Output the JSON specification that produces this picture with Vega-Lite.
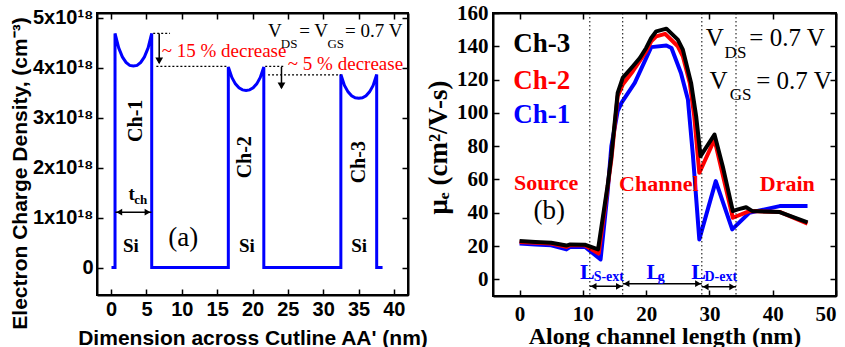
{
  "$schema": "https://vega.github.io/schema/vega-lite/v6.json",
  "background": "white",
  "padding": {"left": 8, "right": 5, "top": 1, "bottom": 0},
  "spacing": 85,
  "bounds": "flush",
  "config": {
    "view": {"stroke": "black", "strokeWidth": 2},
    "axis": {"grid": false, "domainColor": "black", "domainWidth": 2, "tickColor": "black", "tickWidth": 1.5, "tickSize": -6, "labelColor": "black", "titleColor": "black", "labelOverlap": false, "minExtent": 0, "tickCount": 30}
  },
  "hconcat": [
    {
      "width": 311,
      "height": 282,
      "layer": [
        {
          "layer": [
            {
              "data": {"values": [
                {"i":1,"d":0.05,"n":0},{"i":2,"d":0.55,"n":0},{"i":3,"d":0.55,"n":4.69},{"i":4,"d":1.07,"n":4.40},{"i":5,"d":1.59,"n":4.22},{"i":6,"d":2.11,"n":4.11},{"i":7,"d":2.63,"n":4.05},{"i":8,"d":3.15,"n":4.04},{"i":9,"d":3.67,"n":4.05},{"i":10,"d":4.19,"n":4.11},{"i":11,"d":4.71,"n":4.22},{"i":12,"d":5.23,"n":4.40},{"i":13,"d":5.74,"n":4.69},{"i":14,"d":5.74,"n":0},
                {"i":15,"d":16.58,"n":0},{"i":16,"d":16.58,"n":4.02},{"i":17,"d":17.08,"n":3.81},{"i":18,"d":17.58,"n":3.68},{"i":19,"d":18.09,"n":3.60},{"i":20,"d":18.59,"n":3.56},{"i":21,"d":19.09,"n":3.55},{"i":22,"d":19.59,"n":3.56},{"i":23,"d":20.09,"n":3.60},{"i":24,"d":20.60,"n":3.68},{"i":25,"d":21.10,"n":3.81},{"i":26,"d":21.6,"n":4.02},{"i":27,"d":21.6,"n":0},
                {"i":28,"d":32.5,"n":0},{"i":29,"d":32.5,"n":3.87},{"i":30,"d":33.01,"n":3.65},{"i":31,"d":33.52,"n":3.52},{"i":32,"d":34.02,"n":3.44},{"i":33,"d":34.53,"n":3.40},{"i":34,"d":35.04,"n":3.39},{"i":35,"d":35.55,"n":3.40},{"i":36,"d":36.06,"n":3.44},{"i":37,"d":36.56,"n":3.52},{"i":38,"d":37.07,"n":3.65},{"i":39,"d":37.57,"n":3.87},{"i":40,"d":37.57,"n":0},{"i":41,"d":38.4,"n":0}
              ]},
              "mark": {"type": "line", "color": "#0000ff", "strokeWidth": 3},
              "encoding": {
                "x": {"field": "d", "type": "quantitative", "scale": {"domain": [-2, 42], "nice": false, "zero": false},
                  "axis": {"values": [0,5,10,15,20,25,30,35,40], "tickCount": 30, "title": "Dimension across Cutline AA' (nm)", "labelFont": "Liberation Sans, Arial, Helvetica, sans-serif", "labelFontWeight": "bold", "labelFontSize": 20, "titleFont": "Liberation Sans, Arial, Helvetica, sans-serif", "titleFontWeight": "bold", "titleFontSize": 21, "labelPadding": 10, "titlePadding": 8}},
                "y": {"field": "n", "type": "quantitative", "scale": {"domain": [-0.55, 5.1], "nice": false, "zero": false},
                  "axis": {"values": [0,1,2,3,4,5], "tickCount": 30, "labelExpr": "datum.value == 0 ? '0' : datum.value + 'x10¹⁸'", "title": "Electron Charge Density, (cm⁻³)", "titleY": 160, "labelFont": "Liberation Sans, Arial, Helvetica, sans-serif", "labelFontWeight": "bold", "labelFontSize": 20, "titleFont": "Liberation Sans, Arial, Helvetica, sans-serif", "titleFontWeight": "bold", "titleFontSize": 21, "labelPadding": 10, "titlePadding": 2}},
                "order": {"field": "i"}
              }
            },
            {
              "data": {"values": [
                {"x": 5.95, "x2": 8.33, "y": 4.69},
                {"x": 6.4, "x2": 16.6, "y": 4.03},
                {"x": 21.8, "x2": 24.6, "y": 4.03},
                {"x": 22.2, "x2": 32.5, "y": 3.86}
              ]},
              "mark": {"type": "rule", "color": "black", "strokeWidth": 1.2, "strokeDash": [2, 2]},
              "encoding": {"x": {"field": "x", "type": "quantitative"}, "x2": {"field": "x2"}, "y": {"field": "y", "type": "quantitative"}}
            },
            {
              "data": {"values": [
                {"x": 6.8, "y": 4.69, "y2": 4.1},
                {"x": 24.1, "y": 4.02, "y2": 3.6}
              ]},
              "mark": {"type": "rule", "color": "black", "strokeWidth": 1.5},
              "encoding": {"x": {"field": "x", "type": "quantitative"}, "y": {"field": "y", "type": "quantitative"}, "y2": {"field": "y2"}}
            },
            {
              "data": {"values": [{"x": 6.8, "y": 4.14}, {"x": 24.1, "y": 3.64}]},
              "mark": {"type": "point", "shape": "triangle-down", "filled": true, "color": "black", "size": 60, "opacity": 1},
              "encoding": {"x": {"field": "x", "type": "quantitative"}, "y": {"field": "y", "type": "quantitative"}}
            },
            {
              "data": {"values": [{"x": 0.6, "x2": 5.7, "y": 1.11}]},
              "mark": {"type": "rule", "color": "black", "strokeWidth": 1.5},
              "encoding": {"x": {"field": "x", "type": "quantitative"}, "x2": {"field": "x2"}, "y": {"field": "y", "type": "quantitative"}}
            },
            {
              "data": {"values": [{"x": 1.15, "y": 1.11, "dir": "left"}, {"x": 5.15, "y": 1.11, "dir": "right"}]},
              "mark": {"type": "point", "filled": true, "color": "black", "size": 45, "opacity": 1},
              "encoding": {"x": {"field": "x", "type": "quantitative"}, "y": {"field": "y", "type": "quantitative"},
                "shape": {"field": "dir", "type": "nominal", "scale": {"domain": ["left", "right"], "range": ["triangle-left", "triangle-right"]}, "legend": null}}
            },
            {
              "data": {"values": [{"x": 22.2, "y": 4.73, "t": "V"}, {"x": 26.6, "y": 4.73, "t": "= V"}, {"x": 33.1, "y": 4.73, "t": "= 0.7 V"}]},
              "mark": {"type": "text", "font": "Liberation Serif, Times New Roman, Times, serif", "fontSize": 19, "align": "left", "baseline": "middle", "color": "black"},
              "encoding": {"x": {"field": "x", "type": "quantitative"}, "y": {"field": "y", "type": "quantitative"}, "text": {"field": "t"}}
            },
            {
              "data": {"values": [{"x": 24.0, "y": 4.47, "t": "DS"}, {"x": 30.6, "y": 4.47, "t": "GS"}]},
              "mark": {"type": "text", "font": "Liberation Serif, Times New Roman, Times, serif", "fontSize": 13, "align": "left", "baseline": "middle", "color": "black"},
              "encoding": {"x": {"field": "x", "type": "quantitative"}, "y": {"field": "y", "type": "quantitative"}, "text": {"field": "t"}}
            },
            {
              "data": {"values": [{"x": 7.15, "y": 4.33, "t": "~ 15 % decrease"}, {"x": 25.0, "y": 4.07, "t": "~ 5 % decrease"}]},
              "mark": {"type": "text", "font": "Liberation Serif, Times New Roman, Times, serif", "fontSize": 19, "align": "left", "baseline": "middle", "color": "#ff0000"},
              "encoding": {"x": {"field": "x", "type": "quantitative"}, "y": {"field": "y", "type": "quantitative"}, "text": {"field": "t"}}
            },
            {
              "data": {"values": [{"x": 3.45, "y": 2.94, "t": "Ch-1"}, {"x": 19.0, "y": 2.21, "t": "Ch-2"}, {"x": 35.0, "y": 2.11, "t": "Ch-3"}]},
              "mark": {"type": "text", "font": "Liberation Serif, Times New Roman, Times, serif", "fontSize": 20, "fontWeight": "bold", "angle": 270, "align": "center", "baseline": "middle", "color": "black"},
              "encoding": {"x": {"field": "x", "type": "quantitative"}, "y": {"field": "y", "type": "quantitative"}, "text": {"field": "t"}}
            },
            {
              "data": {"values": [{"x": 2.8, "y": 0.44, "t": "Si"}, {"x": 19.2, "y": 0.44, "t": "Si"}, {"x": 35.1, "y": 0.44, "t": "Si"}, {"x": 2.9, "y": 1.48, "t": "t"}]},
              "mark": {"type": "text", "font": "Liberation Serif, Times New Roman, Times, serif", "fontSize": 19, "fontWeight": "bold", "align": "center", "baseline": "middle", "color": "black"},
              "encoding": {"x": {"field": "x", "type": "quantitative"}, "y": {"field": "y", "type": "quantitative"}, "text": {"field": "t"}}
            },
            {
              "data": {"values": [{"x": 4.2, "y": 1.36, "t": "ch"}]},
              "mark": {"type": "text", "font": "Liberation Serif, Times New Roman, Times, serif", "fontSize": 13, "fontWeight": "bold", "align": "center", "baseline": "middle", "color": "black"},
              "encoding": {"x": {"field": "x", "type": "quantitative"}, "y": {"field": "y", "type": "quantitative"}, "text": {"field": "t"}}
            },
            {
              "data": {"values": [{"x": 10.2, "y": 0.6, "t": "(a)"}]},
              "mark": {"type": "text", "font": "Liberation Serif, Times New Roman, Times, serif", "fontSize": 27, "align": "center", "baseline": "middle", "color": "black"},
              "encoding": {"x": {"field": "x", "type": "quantitative"}, "y": {"field": "y", "type": "quantitative"}, "text": {"field": "t"}}
            }
          ]
        },
        {
          "data": {"values": [{"d": 0, "n": 0}]},
          "mark": {"type": "point", "opacity": 0},
          "encoding": {
            "x": {"field": "d", "type": "quantitative", "scale": {"domain": [-2, 42], "nice": false, "zero": false}, "axis": {"orient": "top", "values": [0,5,10,15,20,25,30,35,40], "tickCount": 30, "labels": false, "title": null}},
            "y": {"field": "n", "type": "quantitative", "scale": {"domain": [-0.55, 5.1], "nice": false, "zero": false}, "axis": {"orient": "right", "values": [0,1,2,3,4,5], "tickCount": 30, "labels": false, "title": null}}
          }
        }
      ],
      "resolve": {"axis": {"x": "independent", "y": "independent"}}
    },
    {
      "width": 343,
      "height": 283,
      "layer": [
        {
          "layer": [
            {
              "data": {"values": [
                {"ch":"Ch-1","x":0,"mu":21.5},{"ch":"Ch-1","x":2.5,"mu":21},{"ch":"Ch-1","x":5,"mu":20.5},{"ch":"Ch-1","x":7.4,"mu":18},{"ch":"Ch-1","x":8,"mu":19.5},{"ch":"Ch-1","x":10.3,"mu":19.6},{"ch":"Ch-1","x":12.8,"mu":12},{"ch":"Ch-1","x":13.9,"mu":52},{"ch":"Ch-1","x":14.5,"mu":80},{"ch":"Ch-1","x":15.5,"mu":101},{"ch":"Ch-1","x":16.1,"mu":106},{"ch":"Ch-1","x":18.2,"mu":118},{"ch":"Ch-1","x":20.8,"mu":139.5},{"ch":"Ch-1","x":23.2,"mu":140.5},{"ch":"Ch-1","x":24,"mu":139},{"ch":"Ch-1","x":25.5,"mu":124},{"ch":"Ch-1","x":26.6,"mu":108},{"ch":"Ch-1","x":27.4,"mu":74},{"ch":"Ch-1","x":28.4,"mu":24},{"ch":"Ch-1","x":31,"mu":59},{"ch":"Ch-1","x":33.6,"mu":30},{"ch":"Ch-1","x":36.3,"mu":40},{"ch":"Ch-1","x":41.1,"mu":44},{"ch":"Ch-1","x":45.5,"mu":44},
                {"ch":"Ch-2","x":0,"mu":22.5},{"ch":"Ch-2","x":2.5,"mu":22},{"ch":"Ch-2","x":5,"mu":21.5},{"ch":"Ch-2","x":7.4,"mu":19.5},{"ch":"Ch-2","x":8,"mu":20.5},{"ch":"Ch-2","x":10.3,"mu":20.5},{"ch":"Ch-2","x":12.5,"mu":15.5},{"ch":"Ch-2","x":13.9,"mu":55},{"ch":"Ch-2","x":14.5,"mu":72},{"ch":"Ch-2","x":15.5,"mu":110},{"ch":"Ch-2","x":16.3,"mu":117},{"ch":"Ch-2","x":17.9,"mu":125},{"ch":"Ch-2","x":20,"mu":137},{"ch":"Ch-2","x":20.8,"mu":143},{"ch":"Ch-2","x":21.6,"mu":146},{"ch":"Ch-2","x":23,"mu":147.5},{"ch":"Ch-2","x":25,"mu":140},{"ch":"Ch-2","x":25.8,"mu":134},{"ch":"Ch-2","x":26.9,"mu":118},{"ch":"Ch-2","x":27.6,"mu":98},{"ch":"Ch-2","x":28.4,"mu":64},{"ch":"Ch-2","x":30.8,"mu":84},{"ch":"Ch-2","x":33.7,"mu":37},{"ch":"Ch-2","x":36.3,"mu":41},{"ch":"Ch-2","x":41.1,"mu":40.5},{"ch":"Ch-2","x":45.5,"mu":33.5},
                {"ch":"Ch-3","x":0,"mu":23},{"ch":"Ch-3","x":2.5,"mu":22.5},{"ch":"Ch-3","x":5,"mu":22},{"ch":"Ch-3","x":7.4,"mu":20.3},{"ch":"Ch-3","x":8,"mu":21},{"ch":"Ch-3","x":10.3,"mu":20.8},{"ch":"Ch-3","x":12.4,"mu":18},{"ch":"Ch-3","x":13.9,"mu":56},{"ch":"Ch-3","x":14.5,"mu":74},{"ch":"Ch-3","x":15.5,"mu":112},{"ch":"Ch-3","x":16.3,"mu":121},{"ch":"Ch-3","x":17.9,"mu":128},{"ch":"Ch-3","x":19,"mu":133},{"ch":"Ch-3","x":20,"mu":139},{"ch":"Ch-3","x":20.8,"mu":145},{"ch":"Ch-3","x":21.6,"mu":149},{"ch":"Ch-3","x":23.2,"mu":150.6},{"ch":"Ch-3","x":25,"mu":144},{"ch":"Ch-3","x":25.8,"mu":138},{"ch":"Ch-3","x":27.1,"mu":118},{"ch":"Ch-3","x":27.9,"mu":98},{"ch":"Ch-3","x":28.6,"mu":74},{"ch":"Ch-3","x":30.8,"mu":87},{"ch":"Ch-3","x":32.1,"mu":68},{"ch":"Ch-3","x":33.7,"mu":41},{"ch":"Ch-3","x":34.5,"mu":42},{"ch":"Ch-3","x":35.8,"mu":43.3},{"ch":"Ch-3","x":36.8,"mu":41},{"ch":"Ch-3","x":41.1,"mu":40.4},{"ch":"Ch-3","x":45.5,"mu":34.3}
              ]},
              "mark": {"type": "line", "strokeWidth": 4, "strokeJoin": "round"},
              "encoding": {
                "x": {"field": "x", "type": "quantitative", "scale": {"domain": [-4.2, 50], "nice": false, "zero": false},
                  "axis": {"values": [0,10,20,30,40,50], "tickCount": 30, "title": "Along channel length (nm)", "labelFont": "Liberation Serif, Times New Roman, Times, serif", "labelFontWeight": "bold", "labelFontSize": 21, "titleFont": "Liberation Serif, Times New Roman, Times, serif", "titleFontWeight": "bold", "titleFontSize": 24, "labelPadding": 13, "titlePadding": 0}},
                "y": {"field": "mu", "type": "quantitative", "scale": {"domain": [-10, 160], "nice": false, "zero": false},
                  "axis": {"values": [0,20,40,60,80,100,120,140,160], "tickCount": 30, "title": "μₑ (cm²/V-s)", "titleY": 134, "labelFont": "Liberation Serif, Times New Roman, Times, serif", "labelFontWeight": "bold", "labelFontSize": 21, "titleFont": "Liberation Serif, Times New Roman, Times, serif", "titleFontWeight": "bold", "titleFontSize": 27, "labelPadding": 11, "titlePadding": 4}},
                "color": {"field": "ch", "type": "nominal", "scale": {"domain": ["Ch-1", "Ch-2", "Ch-3"], "range": ["#0000ff", "#ff0000", "#000000"]}, "legend": null}
              }
            },
            {
              "data": {"values": [{"x": 11.1}, {"x": 16.3}, {"x": 28.8}, {"x": 34.2}]},
              "mark": {"type": "rule", "color": "black", "strokeWidth": 1, "strokeDash": [1.5, 2.5]},
              "encoding": {"x": {"field": "x", "type": "quantitative"}}
            },
            {
              "data": {"values": [
                {"x": 11.1, "x2": 16.3, "y": -4.2},
                {"x": 16.3, "x2": 28.8, "y": -2.6},
                {"x": 28.8, "x2": 34.2, "y": -4.5}
              ]},
              "mark": {"type": "rule", "color": "black", "strokeWidth": 1.5},
              "encoding": {"x": {"field": "x", "type": "quantitative"}, "x2": {"field": "x2"}, "y": {"field": "y", "type": "quantitative"}}
            },
            {
              "data": {"values": [
                {"x": 11.7, "y": -4.2, "dir": "left"}, {"x": 15.7, "y": -4.2, "dir": "right"},
                {"x": 16.9, "y": -2.6, "dir": "left"}, {"x": 28.2, "y": -2.6, "dir": "right"},
                {"x": 29.4, "y": -4.5, "dir": "left"}, {"x": 33.6, "y": -4.5, "dir": "right"}
              ]},
              "mark": {"type": "point", "filled": true, "color": "black", "size": 45, "opacity": 1},
              "encoding": {"x": {"field": "x", "type": "quantitative"}, "y": {"field": "y", "type": "quantitative"},
                "shape": {"field": "dir", "type": "nominal", "scale": {"domain": ["left", "right"], "range": ["triangle-left", "triangle-right"]}, "legend": null}}
            },
            {
              "data": {"values": [{"x": 10.7, "y": 4.5, "t": "L"}, {"x": 21.2, "y": 4.5, "t": "L"}, {"x": 28.3, "y": 4.5, "t": "L"}]},
              "mark": {"type": "text", "font": "Liberation Serif, Times New Roman, Times, serif", "fontSize": 22, "fontWeight": "bold", "align": "center", "baseline": "middle", "color": "#0000ff"},
              "encoding": {"x": {"field": "x", "type": "quantitative"}, "y": {"field": "y", "type": "quantitative"}, "text": {"field": "t"}}
            },
            {
              "data": {"values": [{"x": 14.1, "y": 1.2, "t": "S-ext"}, {"x": 22.4, "y": 1.6, "t": "g"}, {"x": 31.8, "y": 1.2, "t": "D-ext"}]},
              "mark": {"type": "text", "font": "Liberation Serif, Times New Roman, Times, serif", "fontSize": 14, "fontWeight": "bold", "align": "center", "baseline": "middle", "color": "#0000ff"},
              "encoding": {"x": {"field": "x", "type": "quantitative"}, "y": {"field": "y", "type": "quantitative"}, "text": {"field": "t"}}
            },
            {
              "data": {"values": [{"x": 3.5, "y": 141.5, "t": "Ch-3", "ch": "Ch-3"}, {"x": 3.5, "y": 119, "t": "Ch-2", "ch": "Ch-2"}, {"x": 3.5, "y": 99, "t": "Ch-1", "ch": "Ch-1"}]},
              "mark": {"type": "text", "font": "Liberation Serif, Times New Roman, Times, serif", "fontSize": 27, "fontWeight": "bold", "align": "center", "baseline": "middle"},
              "encoding": {"x": {"field": "x", "type": "quantitative"}, "y": {"field": "y", "type": "quantitative"}, "text": {"field": "t"},
                "color": {"field": "ch", "type": "nominal", "scale": {"domain": ["Ch-1", "Ch-2", "Ch-3"], "range": ["#0000ff", "#ff0000", "#000000"]}, "legend": null}}
            },
            {
              "data": {"values": [{"x": 29.4, "y": 144.7, "t": "V"}, {"x": 36.3, "y": 144.7, "t": "= 0.7 V"}, {"x": 30.0, "y": 119.4, "t": "V"}, {"x": 37.4, "y": 119.4, "t": "= 0.7 V"}]},
              "mark": {"type": "text", "font": "Liberation Serif, Times New Roman, Times, serif", "fontSize": 25, "align": "left", "baseline": "middle", "color": "black"},
              "encoding": {"x": {"field": "x", "type": "quantitative"}, "y": {"field": "y", "type": "quantitative"}, "text": {"field": "t"}}
            },
            {
              "data": {"values": [{"x": 32.4, "y": 136, "t": "DS"}, {"x": 33.2, "y": 111, "t": "GS"}]},
              "mark": {"type": "text", "font": "Liberation Serif, Times New Roman, Times, serif", "fontSize": 17, "align": "left", "baseline": "middle", "color": "black"},
              "encoding": {"x": {"field": "x", "type": "quantitative"}, "y": {"field": "y", "type": "quantitative"}, "text": {"field": "t"}}
            },
            {
              "data": {"values": [{"x": 4.2, "y": 58, "t": "Source"}, {"x": 22, "y": 57, "t": "Channel"}, {"x": 42.3, "y": 57, "t": "Drain"}]},
              "mark": {"type": "text", "font": "Liberation Serif, Times New Roman, Times, serif", "fontSize": 22, "fontWeight": "bold", "align": "center", "baseline": "middle", "color": "#ff0000"},
              "encoding": {"x": {"field": "x", "type": "quantitative"}, "y": {"field": "y", "type": "quantitative"}, "text": {"field": "t"}}
            },
            {
              "data": {"values": [{"x": 4.7, "y": 41, "t": "(b)"}]},
              "mark": {"type": "text", "font": "Liberation Serif, Times New Roman, Times, serif", "fontSize": 27, "align": "center", "baseline": "middle", "color": "black"},
              "encoding": {"x": {"field": "x", "type": "quantitative"}, "y": {"field": "y", "type": "quantitative"}, "text": {"field": "t"}}
            }
          ]
        },
        {
          "data": {"values": [{"x": 0, "mu": 0}]},
          "mark": {"type": "point", "opacity": 0},
          "encoding": {
            "x": {"field": "x", "type": "quantitative", "scale": {"domain": [-4.2, 50], "nice": false, "zero": false}, "axis": {"orient": "top", "values": [0,10,20,30,40,50], "tickCount": 30, "labels": false, "title": null}},
            "y": {"field": "mu", "type": "quantitative", "scale": {"domain": [-10, 160], "nice": false, "zero": false}, "axis": {"orient": "right", "values": [0,20,40,60,80,100,120,140,160], "tickCount": 30, "labels": false, "title": null}}
          }
        }
      ],
      "resolve": {"axis": {"x": "independent", "y": "independent"}}
    }
  ]
}
